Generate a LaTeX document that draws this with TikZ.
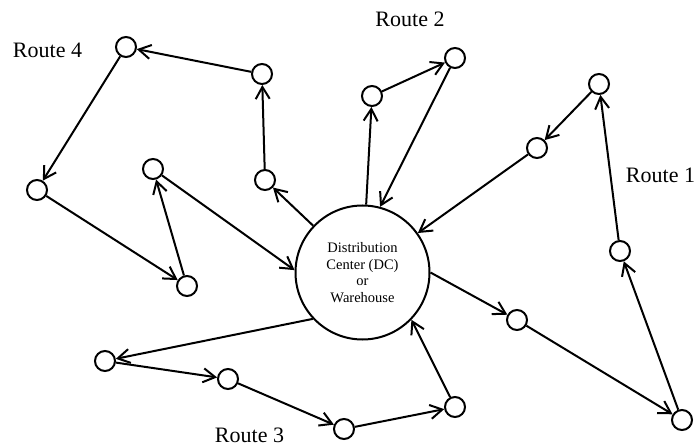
\documentclass[tikz,border=0pt]{standalone}
\usepackage{fontspec}
\setmainfont{Liberation Serif}
\usetikzlibrary{arrows.meta}
\begin{document}
\begin{tikzpicture}[x=1pt,y=-1pt,
  stop/.style={circle,draw,line width=2pt,minimum size=20pt,inner sep=0pt},
  hub/.style={circle,draw,line width=2pt,minimum size=134pt,inner sep=0pt,align=center,font=\fontsize{14.5}{16.7}\selectfont},
  route/.style={-{Straight Barb[length=12pt,width=14pt,line width=2pt]},line width=2pt},
  lbl/.style={font=\fontsize{22}{26}\selectfont,inner sep=0pt}]
\useasboundingbox (0,0) rectangle (696,446);

\node[hub] (dc) at (362.5,272.5) {Distribution\\Center (DC)\\or\\Warehouse};

% Route 4
\node[stop] (a1) at (265,180) {};
\node[stop] (a2) at (262,74) {};
\node[stop] (a3) at (126,47) {};
\node[stop] (a4) at (37,190) {};
\node[stop] (a5) at (187,286) {};
\node[stop] (a6) at (153,169) {};
% Route 2
\node[stop] (b1) at (372,96) {};
\node[stop] (b2) at (455,58) {};
% Route 1
\node[stop] (c1) at (517,320) {};
\node[stop] (c2) at (682,420) {};
\node[stop] (c3) at (620,251) {};
\node[stop] (c4) at (599,84) {};
\node[stop] (c5) at (537,148) {};
% Route 3
\node[stop] (d1) at (105,361) {};
\node[stop] (d2) at (228,379) {};
\node[stop] (d3) at (344,429) {};
\node[stop] (d4) at (455,407) {};

\node[lbl] (l4) at (47.5,50.5) {Route 4};
\node[lbl] (l2) at (410,19.5) {Route 2};
\node[lbl] (l1) at (660.5,175) {Route 1};
\node[lbl] (l3) at (249.5,435.5) {Route 3};

% Route 4
\draw[route] (dc) -- (a1);
\draw[route] (a1) -- (a2);
\draw[route] (a2) -- (a3);
\draw[route] (a3) -- (a4);
\draw[route] (a4) -- (a5);
\draw[route] (a5) -- (a6);
\draw[route] (a6) -- (dc.178);
% Route 2
\draw[route] (dc) -- (b1);
\draw[route] (b1) -- (b2);
\draw[route] (b2) -- (dc.75);
% Route 1
\draw[route] (dc.0) -- (c1);
\draw[route] (c1) -- (c2);
\draw[route] (c2) -- (c3);
\draw[route] (c3) -- (c4);
\draw[route] (c4) -- (c5);
\draw[route] (c5) -- (dc);
% Route 3
\draw[route] (dc.223) -- (d1);
\draw[route] (d1) -- (d2);
\draw[route] (d2) -- (d3);
\draw[route] (d3) -- (d4);
\draw[route] (d4) -- (dc.316);
\end{tikzpicture}
\end{document}
